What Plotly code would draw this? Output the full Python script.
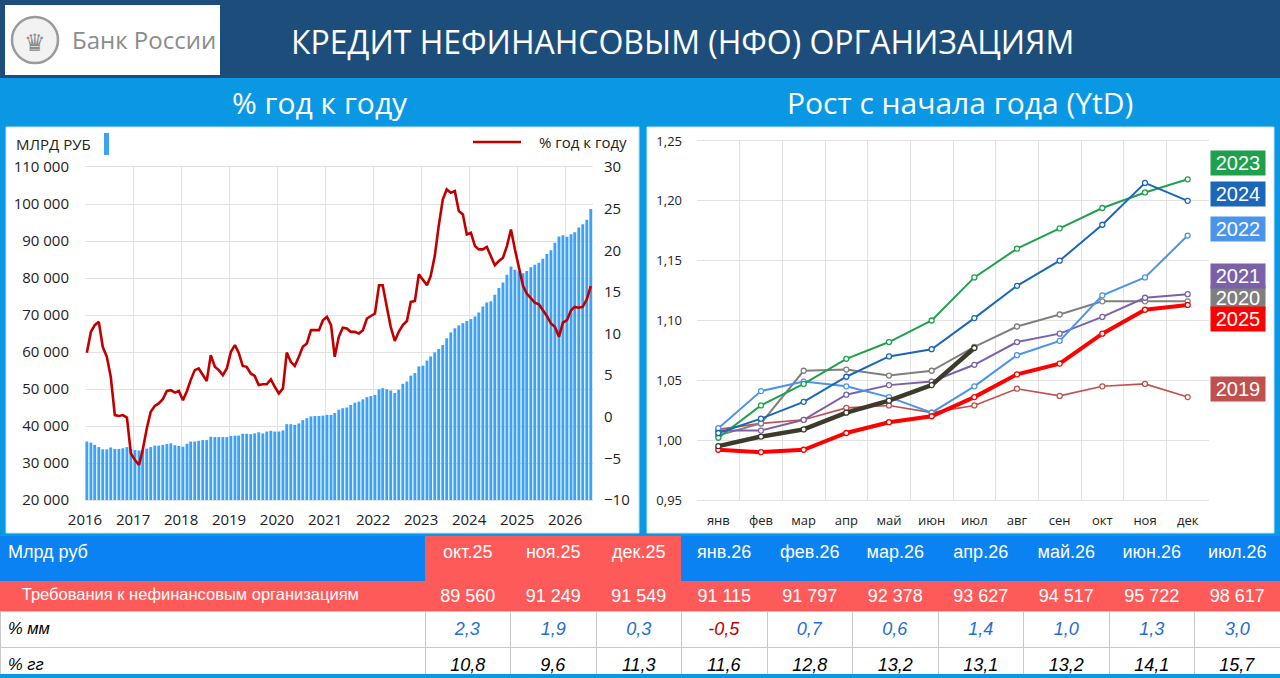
import pandas as pd
import plotly.graph_objects as go

W, H = 1280, 678

# --- left chart: monthly credit stock (млрд руб) and % y/y, Jan 2016 .. Jul 2026
credit = [
    35800, 35500, 34900, 34300, 33700, 33700, 34200, 33800, 33800, 34000, 34300, 33800,  # 2016
    33500, 33400, 33700, 33900, 34300, 34700, 34700, 34900, 35100, 35300, 34800, 34600,  # 2017
    34400, 35200, 35800, 35800, 36000, 36200, 36200, 37100, 37000, 37000, 37000, 37000,  # 2018
    37300, 37400, 37400, 37900, 37900, 37800, 38000, 38300, 38000, 38500, 38700, 38500,  # 2019
    38500, 38800, 40500, 40500, 40300, 40700, 41600, 42100, 42600, 42700, 42700, 42800,  # 2020
    43000, 43000, 43500, 44400, 44800, 45000, 45700, 46300, 46600, 47200, 47800, 48100,  # 2021
    48400, 49900, 50200, 49900, 49600, 48900, 49800, 51400, 52000, 53600, 54300, 56100,  # 2022
    56300, 57700, 58800, 59900, 60800, 61900, 63700, 65300, 66400, 67200, 67800, 68400,  # 2023
    68900, 69600, 70700, 72300, 73400, 73700, 75500, 77300, 78800, 80900, 83100, 82200,  # 2024
    81800, 81300, 81900, 82900, 83600, 84100, 85200, 86500, 87500, 89560, 91249, 91549,  # 2025
    91115, 91797, 92378, 93627, 94517, 95722, 98617,                                      # 2026
]
yoy = [
    7.7, 10.2, 11.0, 11.4, 8.4, 7.2, 4.8, 0.2, 0.1, 0.2, -0.1, -4.4,
    -5.2, -5.8, -4.0, -1.4, 0.6, 1.3, 1.6, 2.1, 3.1, 3.2, 2.9, 3.1,
    2.0, 3.1, 4.4, 5.6, 5.8, 5.0, 4.3, 7.4, 6.0, 5.6, 5.0, 5.8,
    7.8, 8.6, 7.7, 6.1, 6.0, 5.2, 4.9, 3.8, 3.9, 3.9, 4.5, 3.6,
    2.8, 3.4, 7.7, 6.6, 6.1, 7.2, 8.4, 8.8, 10.4, 10.4, 10.4, 11.6,
    12.0, 11.0, 7.2, 9.6, 10.7, 10.6, 10.2, 10.2, 10.0, 10.4, 11.8, 12.1,
    12.4, 15.8, 15.8, 13.2, 10.8, 9.1, 10.2, 11.0, 11.5, 13.8, 13.9, 17.1,
    16.5, 15.8, 16.9, 19.3, 22.9, 26.1, 27.3, 26.9, 27.1, 24.7, 24.3, 21.9,
    22.1, 20.5, 20.1, 20.1, 20.4, 19.3, 18.2, 18.7, 19.1, 20.5, 22.5, 20.1,
    17.7, 15.7, 14.8, 14.2, 13.7, 13.5, 12.8, 12.1, 11.2, 10.8, 9.6, 11.3,
    11.6, 12.8, 13.2, 13.1, 13.2, 14.1, 15.7,
]
years = list(range(2016, 2027))

# --- right chart: growth since start of year (YtD)
month_names = ['янв', 'фев', 'мар', 'апр', 'май', 'июн', 'июл', 'авг', 'сен', 'окт', 'ноя', 'дек']
ytd_2019 = [1.009, 1.014, 1.017, 1.027, 1.029, 1.023, 1.029, 1.043, 1.037, 1.045, 1.047, 1.036]
ytd_2020 = [1.004, 1.014, 1.058, 1.059, 1.054, 1.058, 1.078, 1.095, 1.105, 1.116, 1.116, 1.116]
ytd_2021 = [1.008, 1.008, 1.017, 1.038, 1.046, 1.049, 1.063, 1.082, 1.089, 1.103, 1.119, 1.122]
ytd_2022 = [1.010, 1.041, 1.049, 1.045, 1.036, 1.023, 1.045, 1.071, 1.083, 1.121, 1.136, 1.171]
ytd_2023 = [1.002, 1.029, 1.047, 1.068, 1.082, 1.100, 1.136, 1.160, 1.177, 1.194, 1.207, 1.218]
ytd_2024 = [1.006, 1.018, 1.032, 1.053, 1.070, 1.076, 1.102, 1.129, 1.150, 1.180, 1.215, 1.200]
ytd_2025 = [0.992, 0.990, 0.992, 1.006, 1.015, 1.020, 1.036, 1.055, 1.064, 1.089, 1.109, 1.113]
ytd_2026 = [0.995, 1.003, 1.009, 1.023, 1.033, 1.046, 1.077]

# --- table
tbl_months = ['окт.25', 'ноя.25', 'дек.25', 'янв.26', 'фев.26', 'мар.26',
              'апр.26', 'май.26', 'июн.26', 'июл.26']
tbl_claims = [89560, 91249, 91549, 91115, 91797, 92378, 93627, 94517, 95722, 98617]
tbl_mm = [2.3, 1.9, 0.3, -0.5, 0.7, 0.6, 1.4, 1.0, 1.3, 3.0]
tbl_gg = [10.8, 9.6, 11.3, 11.6, 12.8, 13.2, 13.1, 13.2, 14.1, 15.7]

NAVY = '#1d4e7b'
FRAME = '#0a98e4'
TBL_BLUE = '#0b82f2'
TBL_RED = '#ff5a5a'
BAR = '#3ea2f2'
LINE = '#c00000'
GRID = '#e2e2e2'
NARROW = 'Liberation Sans Narrow, Liberation Sans, sans-serif'
SANS = 'Open Sans, sans-serif'


def px(x):
    return x / W


def py(y):
    return 1 - y / H


dates = pd.date_range('2016-01-01', periods=len(credit), freq='MS') + pd.Timedelta(days=14)

fig = go.Figure()
fig.add_trace(go.Bar(x=dates, y=credit, marker=dict(color=BAR, line_width=0),
                     name='МЛРД РУБ', xaxis='x', yaxis='y'))
fig.add_trace(go.Scatter(x=dates, y=yoy, mode='lines', line=dict(color=LINE, width=2.6),
                         name='% год к году', xaxis='x', yaxis='y2'))

# right chart series (thin ones first, current year on top)
series = [
    ('2019', ytd_2019, '#c0504d', 1.6),
    ('2020', ytd_2020, '#7f7f7f', 2.0),
    ('2021', ytd_2021, '#7b61a8', 2.0),
    ('2022', ytd_2022, '#4a94ea', 2.0),
    ('2023', ytd_2023, '#1fa04c', 2.0),
    ('2024', ytd_2024, '#1a66b8', 2.0),
    ('2025', ytd_2025, '#ff0000', 4.0),
    ('2026', ytd_2026, '#3b3a2b', 4.5),
]
for name, vals, col, w in series:
    fig.add_trace(go.Scatter(
        x=month_names[:len(vals)], y=vals, mode='lines+markers', name=name,
        line=dict(color=col, width=w),
        marker=dict(size=5, color='white', line=dict(color=col, width=1.3)),
        xaxis='x2', yaxis='y3'))

# table
def fmt_int(v):
    return f'{v:,}'.replace(',', ' ')


def fmt_dec(v):
    return f'{v:.1f}'.replace('.', ',')


header_vals = ['Млрд руб'] + tbl_months
header_fill = [TBL_BLUE] + [TBL_RED] * 3 + [TBL_BLUE] * 7
cell_vals = [['\u00a0\u00a0\u00a0Требования к нефинансовым организациям', '<i>% мм</i>', '<i>% гг</i>']]
for c, m, g in zip(tbl_claims, tbl_mm, tbl_gg):
    cell_vals.append([fmt_int(c), '<i>' + fmt_dec(m) + '</i>', '<i>' + fmt_dec(g) + '</i>'])
cell_fill = [[TBL_RED, 'white', 'white']] * 11
cell_font = [['white', 'black', 'black']]
for m in tbl_mm:
    cell_font.append(['white', '#c00000' if m < 0 else '#1f6fd1', 'black'])
cell_line = [[TBL_RED, '#c8c8c8', '#c8c8c8']] * 11

fig.add_trace(go.Table(
    domain=dict(x=[0, 1], y=[py(674), py(536)]),
    columnwidth=[425] + [85.5] * 10,
    header=dict(values=header_vals, fill_color=header_fill, line_color=header_fill,
                align=['left'] + ['center'] * 10, height=44,
                font=dict(family=NARROW, size=18, color='white')),
    cells=dict(values=cell_vals, fill_color=cell_fill, line_color=cell_line,
               align=['left'] + ['center'] * 10, height=31,
               font=dict(family=NARROW, size=[16.5] + [18] * 10, color=cell_font)),
))

shapes = [
    dict(type='rect', x0=0, x1=1, y0=py(78), y1=1, fillcolor=NAVY, line_width=0),
    dict(type='rect', x0=px(5), x1=px(220), y0=py(75), y1=py(5), fillcolor='white', line_width=0),
    dict(type='circle', x0=px(12), x1=px(58), y0=py(63), y1=py(17),
         fillcolor='#f2f2f2', line=dict(color='#9a9a9a', width=2.5)),
    dict(type='rect', x0=px(6), x1=px(639), y0=py(533), y1=py(127), fillcolor='white',
         line=dict(color='#bfe3f7', width=1)),
    dict(type='rect', x0=px(647), x1=px(1274), y0=py(533), y1=py(127), fillcolor='white',
         line=dict(color='#bfe3f7', width=1)),
    # legend keys of the left chart
    dict(type='rect', x0=px(104), x1=px(109), y0=py(155), y1=py(133), fillcolor=BAR, line_width=0),
    dict(type='line', x0=px(473), x1=px(521), y0=py(142), y1=py(142), line=dict(color=LINE, width=2.6)),
]
for s in shapes:
    s.update(xref='paper', yref='paper', layer='below')
shapes[-1]['layer'] = 'above'
shapes[-2]['layer'] = 'above'

annotations = [
    dict(x=px(682), y=py(41), text='КРЕДИТ НЕФИНАНСОВЫМ (НФО) ОРГАНИЗАЦИЯМ',
         font=dict(family=SANS, size=32, color='white')),
    dict(x=px(320), y=py(103), text='% год к году', font=dict(family=SANS, size=30, color='white')),
    dict(x=px(960), y=py(103), text='Рост с начала года (YtD)', font=dict(family=SANS, size=30, color='white')),
    dict(x=px(70), y=py(40), text='Банк России', xanchor='left',
         font=dict(family=SANS, size=24, color='#8c8c8c')),
    dict(x=px(35), y=py(41), text='♛', font=dict(size=24, color='#8c8c8c')),
    dict(x=px(14), y=py(144), text='МЛРД РУБ', xanchor='left',
         font=dict(family=SANS, size=15, color='#222222')),
    dict(x=px(537), y=py(142), text='% год к году', xanchor='left',
         font=dict(family=SANS, size=15, color='#222222')),
]
label_pos = {'2023': 163, '2024': 194, '2022': 229, '2021': 276, '2020': 298, '2025': 319, '2019': 389}
for name, vals, col, w in series:
    if name in label_pos:
        annotations.append(dict(
            x=px(1238), y=py(label_pos[name]), text=name, bgcolor=col, width=52, borderpad=1,
            font=dict(family=NARROW, size=20, color='white')))
for a in annotations:
    a.update(xref='paper', yref='paper', showarrow=False, yanchor='middle')
    a.setdefault('xanchor', 'center')

fig.update_layout(
    width=W, height=H, autosize=False,
    margin=dict(l=0, r=0, t=0, b=0, pad=0),
    paper_bgcolor=FRAME, plot_bgcolor='white',
    separators=', ',
    showlegend=False, bargap=0.22, hovermode=False,
    font=dict(family=SANS, color='#222222'),
    shapes=shapes, annotations=annotations,
    xaxis=dict(domain=[px(85), px(593)], anchor='y', type='date', automargin=False,
               range=['2016-01-01', '2026-08-01'],
               tickvals=[f'{y}-01-01' for y in years], ticktext=[str(y) for y in years],
               showgrid=True, gridcolor=GRID, tickfont=dict(size=15), ticks='',
               ticklabelstandoff=6,
               showline=True, linecolor=GRID, mirror=True, zeroline=False),
    yaxis=dict(domain=[py(500), py(167)], anchor='x', range=[20000, 110000], dtick=10000,
               automargin=False, tickformat=',d', gridcolor=GRID, tickfont=dict(size=15),
               ticklabelstandoff=15, zeroline=False),
    yaxis2=dict(overlaying='y', side='right', anchor='x', range=[-10, 30], dtick=5,
                automargin=False, showgrid=False, zeroline=False, tickfont=dict(size=15),
                ticklabelstandoff=10),
    xaxis2=dict(domain=[px(697), px(1209)], anchor='y3', type='category', automargin=False,
                categoryorder='array', categoryarray=month_names, range=[-0.5, 11.5],
                tickson='boundaries', ticks='', showgrid=True, gridcolor=GRID,
                ticklabelstandoff=8,
                showline=True, linecolor=GRID, mirror=True, tickfont=dict(size=13)),
    yaxis3=dict(domain=[py(500), py(141)], anchor='x2', range=[0.95, 1.25], dtick=0.05,
                automargin=False, tickformat='.2f', gridcolor=GRID, zeroline=False,
                ticklabelstandoff=14, tickfont=dict(size=13)),
)

fig.write_html('out.html', config={'displayModeBar': False},
               post_script="document.body.style.margin='0';document.body.style.overflow='hidden';")
